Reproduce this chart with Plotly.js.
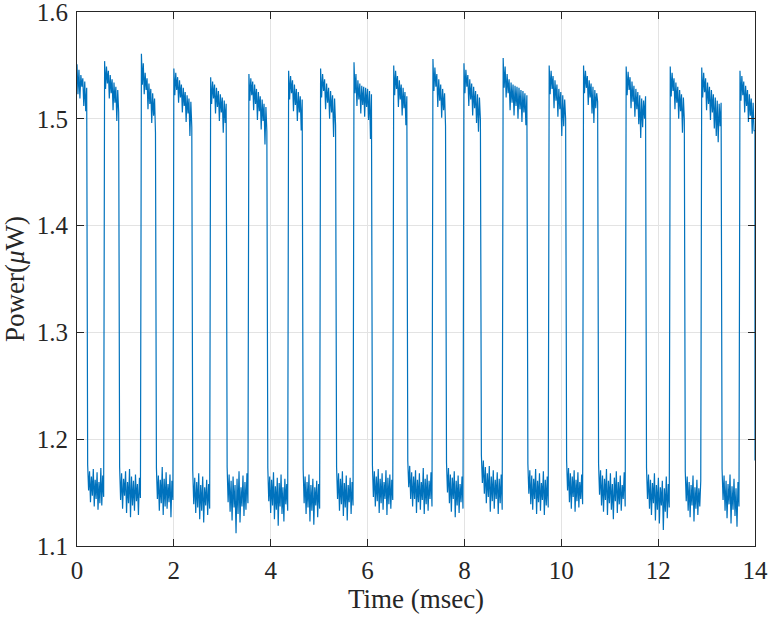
<!DOCTYPE html>
<html>
<head>
<meta charset="utf-8">
<script src="https://cdn.plot.ly/plotly-3.0.1.min.js"></script>
<style>html,body{margin:0;padding:0;background:#fff;}#chart{width:773px;height:628px;}</style>
</head>
<body>
<div id="chart"></div>
<script>
// Segment boundaries (ms): segments alternate high, low, high, ... starting high at t=0
const edgeTimesMs = [0, 0.22, 0.57, 0.88, 1.33, 1.64, 2.00, 2.39, 2.76, 3.10, 3.55, 3.94, 4.37, 4.67, 5.03, 5.36, 5.72, 6.10, 6.54, 6.83, 7.35, 7.63, 7.99, 8.35, 8.80, 9.31, 9.75, 10.11, 10.46, 10.77, 11.34, 11.76, 12.25, 12.56, 12.90, 13.32, 13.69, 14.00];

// Power samples (µW), one array per segment
const highSegments = [
  [1.551, 1.523, 1.546, 1.519, 1.541, 1.530, 1.538, 1.512, 1.535, 1.507, 1.529],
  [1.554, 1.528, 1.549, 1.533, 1.545, 1.519, 1.541, 1.524, 1.537, 1.508, 1.534, 1.515, 1.530, 1.498, 1.527, 1.506],
  [1.561, 1.532, 1.552, 1.523, 1.543, 1.527, 1.538, 1.509, 1.533, 1.514, 1.528, 1.496, 1.524, 1.503, 1.519, 1.487],
  [1.547, 1.522, 1.543, 1.527, 1.539, 1.515, 1.536, 1.520, 1.532, 1.506, 1.529, 1.512, 1.525, 1.497, 1.522, 1.505, 1.519, 1.484, 1.516, 1.492],
  [1.539, 1.514, 1.535, 1.519, 1.532, 1.505, 1.529, 1.511, 1.526, 1.498, 1.523, 1.506, 1.520, 1.487, 1.517, 1.496, 1.514],
  [1.542, 1.517, 1.538, 1.522, 1.535, 1.508, 1.532, 1.514, 1.528, 1.499, 1.525, 1.507, 1.521, 1.490, 1.518, 1.498, 1.514, 1.476, 1.511, 1.488],
  [1.545, 1.518, 1.540, 1.524, 1.536, 1.507, 1.532, 1.513, 1.528, 1.498, 1.525, 1.506, 1.521, 1.489, 1.518],
  [1.547, 1.520, 1.542, 1.526, 1.537, 1.509, 1.533, 1.515, 1.529, 1.500, 1.526, 1.506, 1.522, 1.483, 1.519, 1.494],
  [1.553, 1.524, 1.542, 1.512, 1.536, 1.518, 1.533, 1.505, 1.531, 1.513, 1.530, 1.502, 1.529, 1.511, 1.528, 1.499, 1.526, 1.481, 1.523],
  [1.550, 1.522, 1.545, 1.528, 1.540, 1.511, 1.536, 1.518, 1.532, 1.503, 1.529, 1.510, 1.525, 1.494, 1.521],
  [1.556, 1.526, 1.548, 1.530, 1.542, 1.511, 1.537, 1.517, 1.532, 1.501, 1.528, 1.508, 1.524, 1.493],
  [1.552, 1.524, 1.546, 1.530, 1.541, 1.512, 1.537, 1.518, 1.533, 1.503, 1.530, 1.510, 1.526, 1.496, 1.523, 1.488, 1.520, 1.499],
  [1.557, 1.529, 1.549, 1.520, 1.542, 1.524, 1.537, 1.508, 1.534, 1.515, 1.532, 1.503, 1.531, 1.512, 1.530, 1.500, 1.529, 1.509, 1.527, 1.497, 1.526, 1.506, 1.524, 1.494, 1.522],
  [1.550, 1.523, 1.545, 1.528, 1.540, 1.510, 1.536, 1.517, 1.532, 1.502, 1.528, 1.509, 1.525, 1.484, 1.522, 1.493, 1.518, 1.500],
  [1.550, 1.524, 1.545, 1.529, 1.540, 1.513, 1.536, 1.520, 1.533, 1.505, 1.530, 1.496, 1.527, 1.510, 1.524, 1.516],
  [1.549, 1.522, 1.544, 1.527, 1.539, 1.510, 1.535, 1.516, 1.531, 1.502, 1.528, 1.509, 1.525, 1.495, 1.522, 1.482, 1.519, 1.492, 1.517, 1.500, 1.521],
  [1.549, 1.521, 1.543, 1.526, 1.538, 1.509, 1.534, 1.515, 1.530, 1.500, 1.527, 1.507, 1.523, 1.487, 1.520, 1.499],
  [1.548, 1.520, 1.543, 1.525, 1.538, 1.508, 1.534, 1.514, 1.530, 1.499, 1.527, 1.506, 1.523, 1.491, 1.520, 1.484, 1.517, 1.478, 1.514, 1.493, 1.515],
  [1.545, 1.517, 1.540, 1.522, 1.535, 1.506, 1.531, 1.512, 1.527, 1.497, 1.523, 1.503, 1.519, 1.486, 1.515, 1.489]
];

const lowSegments = [
  [1.176, 1.152, 1.170, 1.141, 1.165, 1.147, 1.172, 1.137, 1.162, 1.144, 1.169, 1.134, 1.160, 1.140, 1.173, 1.138, 1.166, 1.146],
  [1.174, 1.143, 1.168, 1.135, 1.163, 1.147, 1.170, 1.131, 1.160, 1.140, 1.172, 1.127, 1.165, 1.138, 1.161, 1.133, 1.167, 1.142, 1.158, 1.129, 1.164, 1.145],
  [1.173, 1.144, 1.166, 1.133, 1.162, 1.140, 1.174, 1.129, 1.163, 1.137, 1.169, 1.135, 1.158, 1.141, 1.167, 1.127, 1.161, 1.143],
  [1.171, 1.139, 1.164, 1.131, 1.160, 1.136, 1.168, 1.125, 1.157, 1.133, 1.165, 1.122, 1.155, 1.138, 1.162, 1.129, 1.158, 1.135],
  [1.174, 1.141, 1.167, 1.132, 1.161, 1.124, 1.165, 1.136, 1.157, 1.112, 1.163, 1.130, 1.170, 1.122, 1.155, 1.137, 1.166, 1.128, 1.160, 1.134, 1.168, 1.140],
  [1.173, 1.142, 1.165, 1.131, 1.162, 1.138, 1.169, 1.125, 1.156, 1.134, 1.164, 1.119, 1.159, 1.137, 1.167, 1.130, 1.155, 1.123, 1.163, 1.139, 1.158, 1.133],
  [1.172, 1.140, 1.165, 1.130, 1.160, 1.136, 1.167, 1.123, 1.157, 1.133, 1.163, 1.120, 1.155, 1.138, 1.161, 1.127, 1.158, 1.135],
  [1.174, 1.144, 1.168, 1.133, 1.163, 1.139, 1.170, 1.128, 1.159, 1.136, 1.166, 1.124, 1.157, 1.141, 1.164, 1.130, 1.160, 1.138],
  [1.176, 1.146, 1.170, 1.137, 1.165, 1.142, 1.172, 1.131, 1.163, 1.140, 1.168, 1.134, 1.160, 1.144, 1.171, 1.129, 1.164, 1.139, 1.167, 1.135, 1.162, 1.143],
  [1.180, 1.155, 1.175, 1.144, 1.169, 1.137, 1.165, 1.144, 1.171, 1.131, 1.162, 1.141, 1.168, 1.134, 1.160, 1.143, 1.173, 1.130, 1.163, 1.139, 1.167, 1.133, 1.161, 1.144, 1.169, 1.137],
  [1.178, 1.150, 1.173, 1.140, 1.167, 1.132, 1.164, 1.144, 1.170, 1.127, 1.161, 1.138, 1.166, 1.131, 1.158, 1.141, 1.165, 1.135],
  [1.185, 1.159, 1.180, 1.149, 1.174, 1.140, 1.168, 1.146, 1.175, 1.132, 1.165, 1.142, 1.171, 1.135, 1.162, 1.144, 1.169, 1.130, 1.163, 1.140, 1.167, 1.134],
  [1.177, 1.149, 1.171, 1.139, 1.166, 1.134, 1.163, 1.144, 1.172, 1.130, 1.161, 1.141, 1.168, 1.133, 1.159, 1.143, 1.170, 1.129, 1.162, 1.138, 1.165, 1.136],
  [1.180, 1.152, 1.173, 1.141, 1.168, 1.135, 1.165, 1.146, 1.171, 1.132, 1.162, 1.142, 1.169, 1.136, 1.160, 1.144, 1.167, 1.139],
  [1.177, 1.148, 1.171, 1.138, 1.166, 1.132, 1.163, 1.143, 1.172, 1.129, 1.161, 1.140, 1.168, 1.134, 1.158, 1.125, 1.164, 1.142, 1.170, 1.131, 1.160, 1.139, 1.166, 1.133, 1.157, 1.144, 1.169, 1.137],
  [1.173, 1.144, 1.167, 1.135, 1.162, 1.129, 1.159, 1.140, 1.168, 1.124, 1.157, 1.134, 1.164, 1.121, 1.155, 1.138, 1.161, 1.115, 1.154, 1.132, 1.165, 1.126, 1.158, 1.136],
  [1.170, 1.142, 1.165, 1.133, 1.160, 1.127, 1.157, 1.138, 1.166, 1.123, 1.155, 1.135, 1.162, 1.129, 1.154, 1.137, 1.161],
  [1.172, 1.143, 1.166, 1.133, 1.161, 1.126, 1.158, 1.139, 1.167, 1.121, 1.156, 1.134, 1.163, 1.128, 1.154, 1.118, 1.160, 1.137]
];

const finalTime = 14.0;
const finalPower = 1.18;

const xTicks = [0, 2, 4, 6, 8, 10, 12, 14];
const yTicks = [1.1, 1.2, 1.3, 1.4, 1.5, 1.6];

// Assemble the trace: samples of each segment spread evenly across its interval
const timeMs = [];
const powerUW = [];
for (let k = 0; k < edgeTimesMs.length - 1; k++) {
  const seg = (k % 2 === 0) ? highSegments[k / 2] : lowSegments[(k - 1) / 2];
  const t0 = edgeTimesMs[k], t1 = edgeTimesMs[k + 1];
  const dt = (t1 - t0) / seg.length;
  for (let i = 0; i < seg.length; i++) {
    timeMs.push(t0 + i * dt);
    powerUW.push(seg[i]);
  }
}
timeMs.push(finalTime - 0.001);
powerUW.push(highSegments[highSegments.length - 1].slice(-1)[0]);
timeMs.push(finalTime);
powerUW.push(finalPower);

const axisColor = '#262626';
const fontFam = '"Liberation Serif", "Times New Roman", serif';

const trace = {
  x: timeMs, y: powerUW, type: 'scatter', mode: 'lines',
  line: {color: '#0072BD', width: 1.2},
  hoverinfo: 'skip', cliponaxis: true
};

const layout = {
  width: 773, height: 628,
  margin: {l: 77, r: 18, t: 12, b: 82},
  paper_bgcolor: '#ffffff', plot_bgcolor: '#ffffff',
  showlegend: false,
  font: {family: fontFam, color: axisColor, size: 25},
  xaxis: {
    range: [0, 14], tickvals: xTicks, ticktext: xTicks.map(String),
    ticks: 'inside', ticklen: 7, tickwidth: 1, tickcolor: axisColor,
    showline: true, linecolor: axisColor, linewidth: 1, mirror: 'ticks',
    showgrid: true, gridcolor: '#e3e3e3', gridwidth: 1, zeroline: false,
    ticklabeloverflow: 'allow', ticklabelstandoff: 2,
    tickfont: {family: fontFam, size: 25, color: axisColor},
    title: {text: 'Time (msec)', font: {family: fontFam, size: 27, color: axisColor}, standoff: 4}
  },
  yaxis: {
    range: [1.1, 1.6], tickvals: yTicks, ticktext: yTicks.map(v => v.toFixed(1)),
    ticks: 'inside', ticklen: 7, tickwidth: 1, tickcolor: axisColor,
    showline: true, linecolor: axisColor, linewidth: 1, mirror: 'ticks',
    showgrid: true, gridcolor: '#e3e3e3', gridwidth: 1, zeroline: false,
    ticklabeloverflow: 'allow', ticklabelstandoff: 3,
    tickfont: {family: fontFam, size: 25, color: axisColor},
    title: {text: 'Power(<i>μ</i>W)', font: {family: fontFam, size: 27, color: axisColor}, standoff: 4}
  }
};

Plotly.newPlot('chart', [trace], layout, {staticPlot: true, displayModeBar: false});
</script>
</body>
</html>
